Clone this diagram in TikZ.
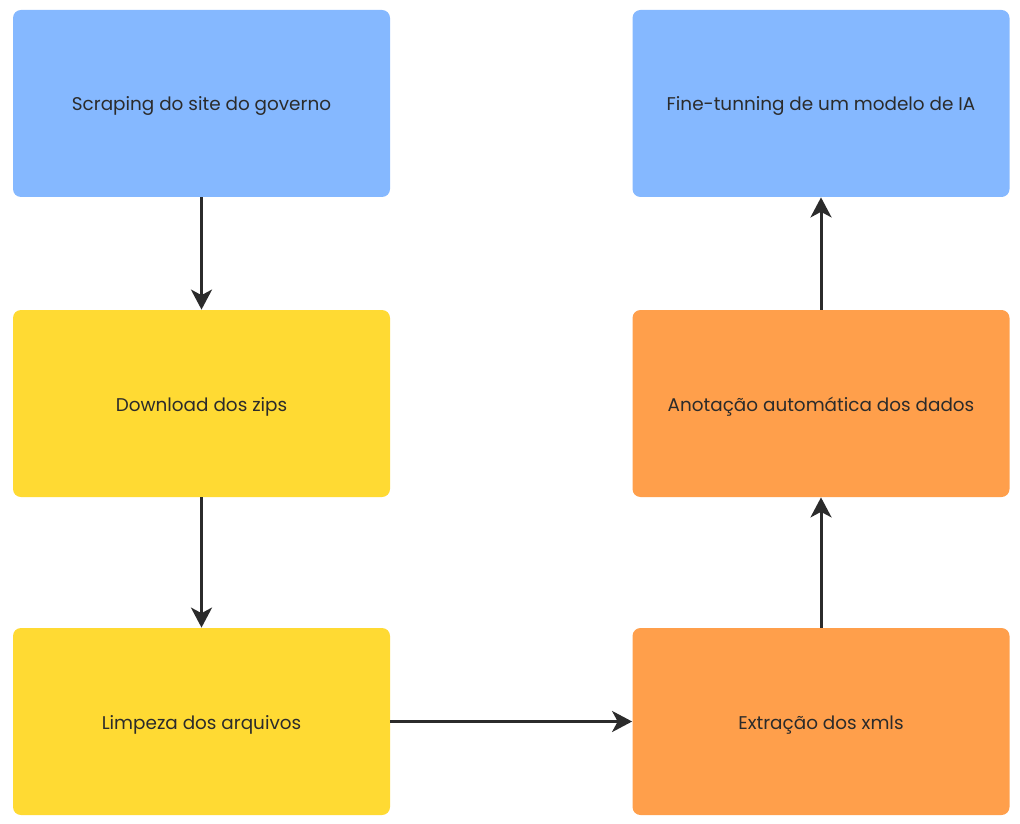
\documentclass[tikz,border=0pt]{standalone}
\usepackage{fontspec}
\setmainfont{Poppins}
\usetikzlibrary{arrows.meta}
\definecolor{stepblue}{HTML}{85B8FF}
\definecolor{stepyellow}{HTML}{FFDA33}
\definecolor{steporange}{HTML}{FF9F4B}
\definecolor{ink}{HTML}{2B2B2B}
\tikzset{
  box/.style={rectangle, rounded corners=4pt, minimum width=188.5pt, minimum height=93.5pt, inner sep=0pt, text=ink, text height=9pt, text depth=1.5pt, font=\fontsize{9.2}{11}\selectfont},
  flow/.style={draw=ink, line width=1.5pt, -{Stealth[length=10pt, width=10.5pt, inset=2.8pt]}}
}
\begin{document}
\begin{tikzpicture}[x=0.5pt, y=-0.5pt]
\useasboundingbox (0,0) rectangle (1020,823);
\node[box, fill=stepblue] (scrap) at (201.5,103.5){Scraping do site do governo};
\node[box, fill=stepyellow] (down) at (201.5,403.5){Download dos zips};
\node[box, fill=stepyellow] (limp) at (201.5,721.5){Limpeza dos arquivos};
\node[box, fill=steporange] (extr) at (821,721.5){Extração dos xmls};
\node[box, fill=steporange] (anot) at (821,403.5){Anotação automática dos dados};
\node[box, fill=stepblue] (fine) at (821,103.5){Fine-tunning de um modelo de IA};
\draw[flow](scrap) -- (down);
\draw[flow](down) -- (limp);
\draw[flow](limp) -- (extr);
\draw[flow](extr) -- (anot);
\draw[flow](anot) -- (fine);
\end{tikzpicture}
\end{document}
